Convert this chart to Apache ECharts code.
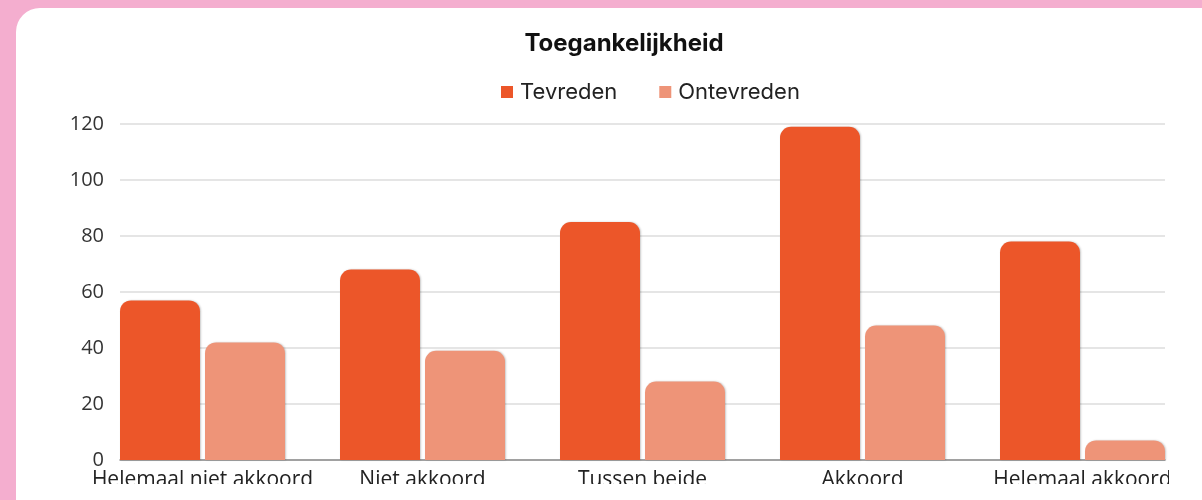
<!DOCTYPE html>
<html>
<head>
<meta charset="utf-8">
<script src="https://cdn.jsdelivr.net/npm/echarts@6/dist/echarts.min.js"></script>
<style>
  html, body { margin: 0; padding: 0; background: #f4aecf; overflow: hidden; }
  #card {
    position: absolute; left: 16px; top: 8px; width: 1230px; height: 540px;
    background: #fff; border-radius: 24px;
  }
  #chart { position: absolute; left: 0; top: 0; width: 1169px; height: 484px; }
</style>
</head>
<body>
<div id="card"></div>
<div id="chart"></div>
<script>
const categories = ['Helemaal niet akkoord', 'Niet akkoord', 'Tussen beide', 'Akkoord', 'Helemaal akkoord']
const tevreden = [57, 68, 85, 119, 78]
const ontevreden = [42, 39, 28, 48, 7]
const seriesNames = ['Tevreden', 'Ontevreden']
const colors = ['#ec5629', '#ee9478']

const chart = echarts.init(document.getElementById('chart'))

const barStyle = (color) => ({
  color,
  borderRadius: [11, 11, 0, 0],
  shadowColor: 'rgba(0,0,0,0.22)',
  shadowBlur: 2,
  shadowOffsetX: 1
})

chart.setOption({
  animation: false,
  title: {
    text: 'Toegankelijkheid',
    left: 619,
    top: 27,
    textAlign: 'center',
    textStyle: { fontFamily: 'Inter', fontWeight: 'bold', fontSize: 24, color: '#111' }
  },
  legend: {
    data: seriesNames,
    left: 496,
    top: 76,
    itemWidth: 12,
    itemHeight: 12,
    itemGap: 42,
    icon: 'rect',
    textStyle: { fontFamily: 'Inter', fontSize: 22, color: '#222', padding: [0, 0, 0, 2] }
  },
  grid: [
    { left: 92.5, width: 1100, top: 124, height: 336, outerBoundsMode: 'none' },
    { left: 120, width: 1045, top: 124, height: 336, outerBoundsMode: 'none' }
  ],
  xAxis: [
    {
      type: 'category',
      gridIndex: 0,
      data: categories,
      axisLine: { show: false },
      axisTick: { show: false },
      axisLabel: {
        interval: 0,
        margin: 10,
        fontFamily: 'Open Sans',
        fontSize: 21,
        color: '#222'
      }
    },
    {
      type: 'category',
      gridIndex: 1,
      data: categories,
      axisLine: { show: true, lineStyle: { color: '#8a8a8a', width: 1.5 } },
      axisTick: { show: false },
      axisLabel: { show: false }
    }
  ],
  yAxis: [
    { type: 'value', gridIndex: 0, min: 0, max: 120, interval: 20, show: false },
    {
      type: 'value',
      gridIndex: 1,
      min: 0,
      max: 120,
      interval: 20,
      axisLine: { show: false },
      axisTick: { show: false },
      splitLine: { lineStyle: { color: '#dcdcdc', width: 1.5 } },
      axisLabel: { margin: 16, fontFamily: 'Open Sans', fontSize: 20, color: '#333' }
    }
  ],
  series: [
    {
      name: seriesNames[0],
      type: 'bar',
      xAxisIndex: 0,
      yAxisIndex: 0,
      data: tevreden,
      barWidth: 80,
      barGap: '6.25%',
      itemStyle: barStyle(colors[0]),
      z: 3
    },
    {
      name: seriesNames[1],
      type: 'bar',
      xAxisIndex: 0,
      yAxisIndex: 0,
      data: ontevreden,
      barWidth: 80,
      barGap: '6.25%',
      itemStyle: barStyle(colors[1]),
      z: 3
    }
  ]
})
</script>
</body>
</html>
